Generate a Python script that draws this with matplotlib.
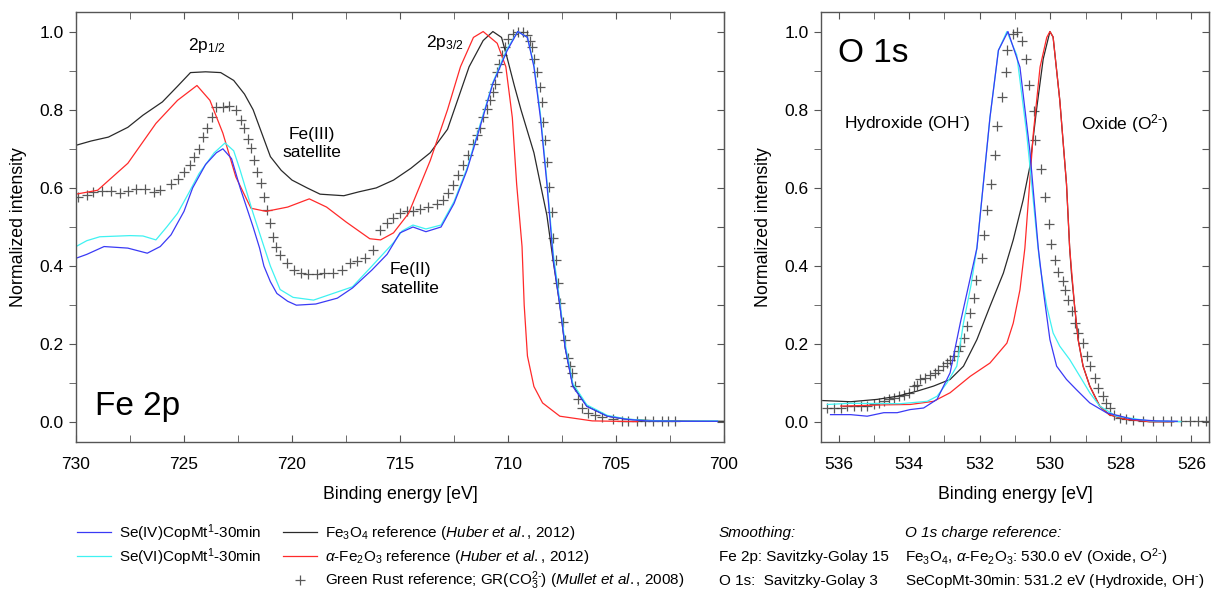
import numpy as np
import matplotlib
matplotlib.use("Agg")
import matplotlib.pyplot as plt
from matplotlib.ticker import MultipleLocator, FormatStrFormatter

plt.rcParams["font.family"] = ["Liberation Sans", "DejaVu Sans"]
plt.rcParams["mathtext.fontset"] = "custom"
plt.rcParams["mathtext.rm"] = "Liberation Sans"
plt.rcParams["mathtext.it"] = "Liberation Sans:italic"
plt.rcParams["mathtext.bf"] = "Liberation Sans:bold"

# ---- Fe 2p spectra (binding energy [eV], normalized intensity) ----
fe_se4_e = [730, 729.5, 728.7, 727.6, 726.7, 726.1, 725.6, 725.0, 724.6, 724.0, 723.5, 723.2,
            722.8, 722.4, 721.8, 721.5, 721.3, 721.0, 720.7, 720.2, 719.8, 718.9, 717.9, 717.2,
            716.3, 715.6, 715.0, 714.4, 713.8, 713.1, 712.5, 711.9, 711.3, 710.7, 710.05, 709.55,
            709.1, 708.8, 708.5, 708.2, 707.9, 707.6, 707.35, 707.0, 706.35, 705.4, 704.5, 703.6,
            702.0, 700.3]
fe_se4_i = [0.42, 0.43, 0.45, 0.446, 0.433, 0.45, 0.48, 0.54, 0.60, 0.66, 0.69, 0.70,
            0.675, 0.60, 0.50, 0.446, 0.40, 0.36, 0.33, 0.31, 0.30, 0.303, 0.318, 0.344,
            0.39, 0.43, 0.485, 0.50, 0.488, 0.50, 0.56, 0.645, 0.755, 0.867, 0.95, 1.0,
            0.985, 0.91, 0.78, 0.61, 0.415, 0.30, 0.19, 0.092, 0.041, 0.016, 0.008, 0.004,
            0.003, 0.003]

fe_se6_e = [730, 729.5, 728.9, 727.5, 726.9, 726.3, 725.8, 725.3, 724.8, 724.3, 723.6, 723.1,
            722.7, 722.4, 721.8, 721.3, 721.0, 720.55, 719.95, 719.0, 718.1, 717.2, 716.3, 715.8,
            715.3, 714.9, 714.4, 713.8, 713.1, 712.5, 711.9, 711.3, 710.7, 710.05, 709.55, 709.1,
            708.8, 708.5, 708.2, 707.9, 707.6, 707.35, 707.0, 706.35, 705.4, 704.5, 703.6, 702.0,
            700.3]
fe_se6_i = [0.45, 0.465, 0.475, 0.478, 0.477, 0.467, 0.50, 0.535, 0.585, 0.637, 0.69, 0.715,
            0.695, 0.645, 0.535, 0.45, 0.40, 0.34, 0.32, 0.313, 0.33, 0.347, 0.40, 0.43,
            0.46, 0.49, 0.505, 0.495, 0.505, 0.565, 0.65, 0.76, 0.87, 0.955, 1.0, 0.985,
            0.915, 0.79, 0.62, 0.43, 0.31, 0.20, 0.10, 0.045, 0.018, 0.009, 0.005, 0.003,
            0.004]

fe_mag_e = [730, 729.3, 728.5, 727.6, 726.9, 726.0, 725.3, 724.7, 724.0, 723.3, 722.7, 722.2,
            721.8, 721.4, 721.0, 720.5, 720.0, 719.3, 718.7, 717.6, 716.9, 716.1, 715.3, 714.5,
            713.6, 712.8, 712.3, 711.8, 711.15, 710.7, 710.3, 710.05, 709.7, 709.4, 708.8, 708.2,
            707.9, 707.6, 707.35, 707.0, 706.35, 705.4, 704.5, 703.0, 700.0]
fe_mag_i = [0.709, 0.72, 0.73, 0.755, 0.786, 0.82, 0.86, 0.895, 0.897, 0.895, 0.875, 0.84,
            0.80, 0.74, 0.68, 0.645, 0.62, 0.60, 0.584, 0.58, 0.59, 0.60, 0.62, 0.65,
            0.69, 0.75, 0.83, 0.91, 0.977, 1.0, 0.985, 0.935, 0.86, 0.80, 0.69, 0.53,
            0.41, 0.30, 0.19, 0.095, 0.042, 0.016, 0.008, 0.004, 0.003]

fe_hem_e = [730, 729.0, 727.6, 726.3, 725.3, 724.4, 723.8, 723.2, 722.6, 721.9, 721.2, 720.2,
            719.2, 718.4, 717.5, 716.4, 715.9, 715.3, 714.6, 713.6, 712.8, 712.2, 711.6, 711.15,
            710.5, 710.1, 709.8, 709.6, 709.35, 709.25, 709.1, 708.8, 708.4, 707.6, 706.1, 704.0]
fe_hem_i = [0.584, 0.594, 0.663, 0.765, 0.824, 0.862, 0.824, 0.74, 0.628, 0.548, 0.54, 0.551,
            0.572, 0.551, 0.513, 0.47, 0.467, 0.485, 0.535, 0.67, 0.80, 0.91, 0.985, 1.0,
            0.97, 0.91, 0.78, 0.61, 0.45, 0.30, 0.17, 0.092, 0.05, 0.016, 0.004, 0.002]

fe_gr_e = [729.9, 729.5, 729.2, 728.8, 728.4, 727.96, 727.6, 727.2, 726.8, 726.4, 726.1, 725.6,
           725.3, 725.0, 724.7, 724.55, 724.3, 724.1, 723.95, 723.7, 723.5, 723.2, 722.9, 722.6,
           722.35, 722.2, 722.05, 721.9, 721.75, 721.6, 721.45, 721.3, 721.15, 721.0, 720.9, 720.75,
           720.55, 720.25, 719.9, 719.6, 719.25, 718.86, 718.5, 718.1, 717.7, 717.3, 717.0, 716.6,
           716.25, 715.93, 715.62, 715.31, 715.0, 714.69, 714.38, 714.07, 713.69, 713.30, 712.99, 712.76,
           712.53, 712.30, 712.07, 711.84, 711.61, 711.42, 711.28, 711.14, 710.99, 710.83, 710.68, 710.58,
           710.50, 710.42, 710.29, 710.14, 709.99, 709.75, 709.52, 709.29, 709.14, 708.98, 708.90, 708.81,
           708.67, 708.52, 708.44, 708.37, 708.29, 708.18, 708.08, 707.98, 707.90, 707.80, 707.68, 707.58,
           707.46, 707.36, 707.23, 707.12, 707.04, 706.90, 706.75, 706.59, 706.28, 705.97, 705.66, 705.12,
           704.74, 704.43, 704.04, 703.66, 703.27, 702.89, 702.58, 702.27]
fe_gr_i = [0.577, 0.583, 0.590, 0.593, 0.593, 0.586, 0.593, 0.596, 0.596, 0.590, 0.594, 0.611,
           0.624, 0.640, 0.658, 0.680, 0.700, 0.730, 0.752, 0.781, 0.807, 0.807, 0.809, 0.799,
           0.773, 0.752, 0.726, 0.701, 0.671, 0.641, 0.612, 0.577, 0.543, 0.509, 0.475, 0.450,
           0.429, 0.407, 0.389, 0.382, 0.379, 0.379, 0.382, 0.383, 0.390, 0.407, 0.412, 0.420,
           0.440, 0.492, 0.509, 0.522, 0.535, 0.542, 0.542, 0.545, 0.552, 0.559, 0.569, 0.586,
           0.607, 0.633, 0.658, 0.684, 0.713, 0.735, 0.752, 0.781, 0.803, 0.824, 0.845, 0.867,
           0.896, 0.918, 0.939, 0.960, 0.981, 0.994, 1.0, 0.998, 0.990, 0.977, 0.960, 0.930,
           0.896, 0.858, 0.820, 0.769, 0.722, 0.667, 0.603, 0.539, 0.471, 0.415, 0.356, 0.305,
           0.258, 0.212, 0.165, 0.144, 0.127, 0.093, 0.059, 0.037, 0.025, 0.018, 0.013, 0.008,
           0.005, 0.003, 0.003, 0.003, 0.003, 0.003, 0.003, 0.003]

# ---- O 1s spectra ----
o_se4_e = [536.23, 535.66, 535.19, 534.72, 534.34, 533.97, 533.59, 533.21, 532.84, 532.55, 532.08,
           531.71, 531.47, 531.2, 530.86, 530.58, 530.34, 530.20, 530.01, 529.82, 529.54, 529.26,
           528.88, 528.41, 527.66, 527.0, 526.4]
o_se4_i = [0.020, 0.020, 0.016, 0.025, 0.025, 0.033, 0.037, 0.059, 0.127, 0.255, 0.446,
           0.78, 0.952, 1.0, 0.909, 0.696, 0.446, 0.339, 0.212, 0.144, 0.110, 0.084,
           0.050, 0.025, 0.008, 0.004, 0.003]

o_se6_e = [536.32, 535.66, 534.25, 533.49, 533.21, 532.93, 532.65, 532.46, 532.25, 532.08, 531.71,
           531.47, 531.23, 530.95, 530.67, 530.39, 530.29, 530.10, 529.92, 529.73, 529.45, 529.16,
           528.88, 528.60, 528.13, 527.19, 526.3]
o_se6_i = [0.046, 0.049, 0.048, 0.054, 0.067, 0.101, 0.144, 0.255, 0.35, 0.446, 0.78,
           0.952, 1.0, 0.94, 0.74, 0.484, 0.40, 0.297, 0.229, 0.195, 0.161, 0.118,
           0.076, 0.042, 0.016, 0.004, 0.002]

o_mag_e = [536.45, 535.66, 534.91, 534.34, 533.78, 533.31, 532.84, 532.46, 532.08, 531.71, 531.33,
           531.05, 530.77, 530.58, 530.39, 530.2, 530.01, 529.92, 529.73, 529.54, 529.45, 529.40,
           529.31, 529.21, 529.07, 528.88, 528.60, 528.33, 527.86, 527.19, 526.5]
o_mag_i = [0.056, 0.053, 0.059, 0.067, 0.080, 0.093, 0.110, 0.144, 0.212, 0.297, 0.382,
           0.467, 0.569, 0.654, 0.80, 0.93, 1.0, 0.986, 0.824, 0.61, 0.446, 0.382,
           0.297, 0.212, 0.144, 0.093, 0.042, 0.020, 0.008, 0.002, 0.002]

o_hem_e = [535.94, 535.85, 534.72, 533.97, 533.31, 532.84, 532.27, 531.71, 531.23, 531.05, 530.86,
           530.72, 530.62, 530.48, 530.29, 530.1, 530.01, 529.92, 529.73, 529.54, 529.45, 529.31,
           529.21, 529.07, 528.88, 528.60, 528.33, 527.86, 527.19, 526.5]
o_hem_i = [0.042, 0.042, 0.045, 0.046, 0.054, 0.076, 0.118, 0.152, 0.203, 0.254, 0.339,
           0.446, 0.569, 0.74, 0.909, 0.985, 1.0, 0.986, 0.824, 0.61, 0.446, 0.297,
           0.212, 0.144, 0.093, 0.042, 0.020, 0.008, 0.002, 0.002]

o_gr_e = [536.32, 536.13, 535.94, 535.75, 535.57, 535.38, 535.19, 535.00, 534.86, 534.72, 534.58,
          534.44, 534.30, 534.16, 534.01, 533.87, 533.78, 533.68, 533.54, 533.40, 533.28, 533.17,
          533.04, 532.93, 532.84, 532.74, 532.63, 532.55, 532.46, 532.36, 532.27, 532.16, 532.10,
          531.94, 531.88, 531.80, 531.67, 531.58, 531.50, 531.38, 531.25, 531.23, 531.05, 530.95,
          530.81, 530.69, 530.59, 530.46, 530.42, 530.27, 530.16, 530.04, 529.97, 529.87, 529.78,
          529.65, 529.59, 529.49, 529.37, 529.31, 529.21, 529.07, 528.97, 528.88, 528.74, 528.65,
          528.51, 528.41, 528.32, 528.18, 528.03, 527.84, 527.66, 527.38, 527.10, 526.81, 526.57,
          526.29, 526.05, 525.82, 525.59]
o_gr_i = [0.037, 0.037, 0.037, 0.042, 0.042, 0.042, 0.043, 0.046, 0.050, 0.054, 0.059,
          0.063, 0.067, 0.071, 0.076, 0.093, 0.097, 0.110, 0.114, 0.122, 0.127, 0.135,
          0.144, 0.152, 0.161, 0.169, 0.182, 0.195, 0.216, 0.246, 0.280, 0.318, 0.365,
          0.420, 0.480, 0.543, 0.610, 0.685, 0.758, 0.832, 0.896, 0.952, 0.994, 1.0,
          0.975, 0.930, 0.864, 0.796, 0.722, 0.648, 0.576, 0.508, 0.456, 0.416, 0.386,
          0.361, 0.339, 0.314, 0.284, 0.254, 0.229, 0.203, 0.170, 0.144, 0.114, 0.088,
          0.067, 0.050, 0.037, 0.020, 0.012, 0.008, 0.006, 0.004, 0.003, 0.003, 0.003,
          0.003, 0.003, 0.003, 0.003]

C_SE4 = "#3a3af5"
C_SE6 = "#3ff2f2"
C_MAG = "#2a2a2a"
C_HEM = "#ff2a2a"
C_GR = "#3c3c3c"
SPINE = "#555555"
FS = 12.5

W, H = 1217, 594
fig = plt.figure(figsize=(W / 100, H / 100), dpi=100)
ax1 = fig.add_axes([76 / W, 152 / H, 648 / W, 430 / H])
ax2 = fig.add_axes([821 / W, 152 / H, 388 / W, 430 / H])

LBL_GR = r"Green Rust reference; GR(CO$_3^{2\text{-}}$) ($\mathit{Mullet\ et\ al.}$, $\mathit{2008}$)"
LBL_MAG = r"Fe$_3$O$_4$ reference ($\mathit{Huber\ et\ al.}$, $\mathit{2012}$)"
LBL_HEM = r"$\alpha$-Fe$_2$O$_3$ reference ($\mathit{Huber\ et\ al.}$, $\mathit{2012}$)"
LBL_SE6 = r"Se(VI)CopMt$^1$-30min"
LBL_SE4 = r"Se(IV)CopMt$^1$-30min"


def draw_spectra(ax, gr, mag, hem, se6, se4):
    ax.plot(gr[0], gr[1], ls="none", marker="+", ms=7, mew=0.9, color=C_GR, alpha=0.85,
            label=LBL_GR)
    ax.plot(mag[0], mag[1], color=C_MAG, lw=0.9, label=LBL_MAG)
    ax.plot(hem[0], hem[1], color=C_HEM, lw=0.9, label=LBL_HEM)
    ax.plot(se6[0], se6[1], color=C_SE6, lw=0.9, label=LBL_SE6)
    ax.plot(se4[0], se4[1], color=C_SE4, lw=0.9, label=LBL_SE4)


draw_spectra(ax1, (fe_gr_e, fe_gr_i), (fe_mag_e, fe_mag_i), (fe_hem_e, fe_hem_i),
             (fe_se6_e, fe_se6_i), (fe_se4_e, fe_se4_i))
draw_spectra(ax2, (o_gr_e, o_gr_i), (o_mag_e, o_mag_i), (o_hem_e, o_hem_i),
             (o_se6_e, o_se6_i), (o_se4_e, o_se4_i))

ax1.set_xlim(730, 700)
ax2.set_xlim(536.5, 525.5)
ax1.xaxis.set_major_locator(MultipleLocator(5))
ax1.xaxis.set_minor_locator(MultipleLocator(2.5))
ax2.xaxis.set_major_locator(MultipleLocator(2))
ax2.xaxis.set_minor_locator(MultipleLocator(1))

for ax in (ax1, ax2):
    ax.set_ylim(-0.05, 1.05)
    ax.yaxis.set_major_locator(MultipleLocator(0.2))
    ax.yaxis.set_minor_locator(MultipleLocator(0.1))
    ax.yaxis.set_major_formatter(FormatStrFormatter("%.1f"))
    for sp in ax.spines.values():
        sp.set_color(SPINE)
        sp.set_linewidth(1.0)
    ax.tick_params(axis="x", which="both", direction="in", top=True, length=5,
                   color=SPINE, labelsize=FS, pad=11)
    ax.tick_params(axis="y", which="both", direction="out", length=5,
                   color=SPINE, labelsize=FS, pad=4)
    ry = ax.secondary_yaxis("right")
    ry.yaxis.set_major_locator(MultipleLocator(0.1))
    ry.tick_params(direction="in", length=5, color=SPINE, labelright=False)
    ry.spines["right"].set_color(SPINE)
    ax.set_xlabel("Binding energy [eV]", fontsize=12.8, labelpad=10)
    ax.set_ylabel("Normalized intensity", fontsize=12.8, labelpad=9)

# peak and satellite annotations
ax1.text(723.94, 0.964, r"2p$_{1/2}$", fontsize=FS, ha="center", va="center")
ax1.text(712.92, 0.972, r"2p$_{3/2}$", fontsize=FS, ha="center", va="center")
ax1.text(719.07, 0.714, "Fe(III)\nsatellite", fontsize=FS, ha="center", va="center",
         linespacing=1.3)
ax1.text(714.54, 0.367, "Fe(II)\nsatellite", fontsize=FS, ha="center", va="center",
         linespacing=1.3)
ax1.text(729.12, 0.018, "Fe 2p", fontsize=24, ha="left", va="baseline")

ax2.text(536.03, 0.923, "O 1s", fontsize=24, ha="left", va="baseline")
ax2.text(534.05, 0.765, r"Hydroxide (OH$^{\text{-}}$)", fontsize=FS, ha="center", va="center")
ax2.text(527.89, 0.765, r"Oxide (O$^{2\text{-}}$)", fontsize=FS, ha="center", va="center")

# legend block under the panels, one entry per row
LFS = 11
hs, ls = ax1.get_legend_handles_labels()
by_label = dict(zip(ls, hs))
rows = [1 - 533 / H, 1 - 557 / H, 1 - 581 / H]
entries = [
    (LBL_SE4, 77 / W, rows[0]),
    (LBL_SE6, 77 / W, rows[1]),
    (LBL_MAG, 283 / W, rows[0]),
    (LBL_HEM, 283 / W, rows[1]),
    (LBL_GR, 283 / W, rows[2]),
]
for lbl, x, y in entries:
    fig.legend(handles=[by_label[lbl]], loc="center left", bbox_to_anchor=(x, y),
               frameon=False, fontsize=LFS, handlelength=2.2, handletextpad=0.55,
               borderpad=0, borderaxespad=0)

fig.text(719 / W, rows[0], "Smoothing:", fontsize=LFS, style="italic", va="center")
fig.text(719 / W, rows[1], "Fe 2p: Savitzky-Golay 15", fontsize=LFS, va="center")
fig.text(719 / W, rows[2], "O 1s:  Savitzky-Golay 3", fontsize=LFS, va="center")
fig.text(905 / W, rows[0], "O 1s charge reference:", fontsize=LFS, style="italic",
         va="center")
fig.text(905 / W, rows[1],
         r"Fe$_3$O$_4$, $\alpha$-Fe$_2$O$_3$: 530.0 eV (Oxide, O$^{2\text{-}}$)",
         fontsize=LFS, va="center")
fig.text(905 / W, rows[2],
         r"SeCopMt-30min: 531.2 eV (Hydroxide, OH$^{\text{-}}$)",
         fontsize=LFS, va="center")

fig.savefig("out.png", dpi=100)
